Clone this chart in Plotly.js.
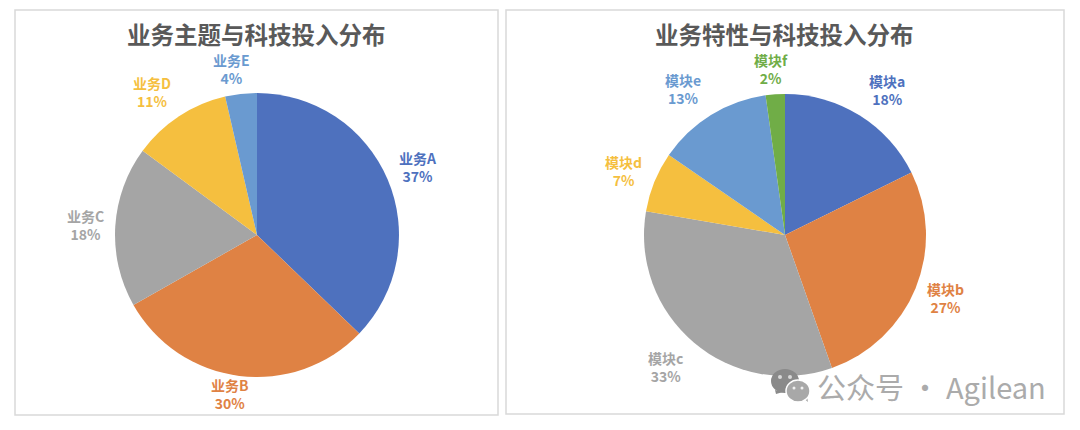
<!DOCTYPE html>
<html><head><meta charset="utf-8">
<script src="https://cdn.plot.ly/plotly-3.0.1.min.js"></script>
<style>html,body{margin:0;padding:0;background:#fff}#c{width:1080px;height:430px}</style></head>
<body><div id="c"></div>
<script>
const font = '"Noto Sans CJK SC","Noto Sans",sans-serif';
const W = 1080, H = 430;
const leftLabels = ['业务A','业务B','业务C','业务D','业务E'];
const leftValues = [37.2,29.6,18.3,11.3,3.6];
const leftColors = ['#4E71BE','#DF8244','#A5A5A5','#F5BF3F','#6A9AD0'];
const rightLabels = ['模块a','模块b','模块c','模块d','模块e','模块f'];
const rightValues = [17.7,26.9,33.1,6.9,13.2,2.2];
const rightColors = ['#4E71BE','#DF8244','#A5A5A5','#F5BF3F','#6A9AD0','#70AD47'];
const leftTitle = '业务主题与科技投入分布';
const rightTitle = '业务特性与科技投入分布';
const watermark = '公众号 · Agilean';
// label centres, in pixels from the pie centre
const leftOffsets = [[161,-68],[-27,159],[-172,-10],[-105,-143],[-26,-166]];
const rightOffsets = [[102,-145],[160,63],[-120,132],[-161,-64],[-102,-146],[-14,-166]];

function dom(cx,cy,r){return {x:[(cx-r)/W,(cx+r)/W],y:[(H-cy-r)/H,(H-cy+r)/H]};}
function pie(labels,values,colors,domain){return {
  type:'pie',labels,values,domain,sort:false,direction:'clockwise',rotation:0,
  marker:{colors,line:{width:0}},textinfo:'none',hoverinfo:'label+percent',showlegend:false
};}
function labelNotes(labels,values,colors,offsets,cx,cy){
  return labels.map((l,i)=>({
    text:'<b>'+l+'<br>'+Math.round(values[i])+'%</b>',
    x:(cx+offsets[i][0])/W,y:1-(cy+offsets[i][1])/H,xref:'paper',yref:'paper',showarrow:false,
    xanchor:'center',yanchor:'middle',align:'center',
    font:{family:font,size:14,color:colors[i]}
  }));
}
const box=(x0,y0,x1,y1)=>({type:'rect',xref:'paper',yref:'paper',x0:x0/W,x1:x1/W,y0:1-y0/H,y1:1-y1/H,line:{color:'#D9D9D9',width:1.5},fillcolor:'rgba(0,0,0,0)',layer:'below'});
const circ=(cx,cy,rx,ry,c,lw)=>({type:'circle',xref:'paper',yref:'paper',x0:(cx-rx)/W,x1:(cx+rx)/W,y0:1-(cy-ry)/H,y1:1-(cy+ry)/H,fillcolor:c,line:lw?{width:lw,color:'#fff'}:{width:0},layer:'above'});
const tail=(pts,c)=>({type:'path',xref:'paper',yref:'paper',path:'M'+pts.map(p=>(p[0]/W)+','+(1-p[1]/H)).join('L')+'Z',fillcolor:c,line:{width:0},layer:'above'});
const ttl=(t,x)=>({text:'<b>'+t+'</b>',x:x/W,y:1-34/H,xref:'paper',yref:'paper',showarrow:false,xanchor:'center',yanchor:'middle',font:{family:font,size:23.5,color:'#595959'}});
Plotly.newPlot('c',[
  pie(leftLabels,leftValues,leftColors,dom(257,235,142)),
  pie(rightLabels,rightValues,rightColors,dom(785,235,141))
],{
  width:W,height:H,margin:{l:0,r:0,t:0,b:0},paper_bgcolor:'#fff',
  shapes:[box(15,10,498,415),box(506,10,1064,414),
    tail([[775,390],[776,394],[783,392]],'#8A8A8A'),
    circ(785,381,14,12,'#8A8A8A'),
    circ(780,377,2,2,'#D8D8D8'),circ(790,377,2,2,'#D8D8D8'),
    tail([[803,398],[808,402],[807,396]],'#A8A8A8'),
    circ(798,391,12,11,'#A8A8A8',1.5),
    circ(794,388,1.5,1.5,'#F0F0F0'),circ(802,388,1.5,1.5,'#F0F0F0')],
  annotations:[ttl(leftTitle,256),ttl(rightTitle,784),
    ...labelNotes(leftLabels,leftValues,leftColors,leftOffsets,257,235),
    ...labelNotes(rightLabels,rightValues,rightColors,rightOffsets,785,235),
    {text:watermark,x:931/W,y:1-386/H,xref:'paper',yref:'paper',showarrow:false,xanchor:'center',yanchor:'middle',font:{family:font,size:29,color:'#ABABAB'}}]
},{displayModeBar:false});
</script></body></html>
